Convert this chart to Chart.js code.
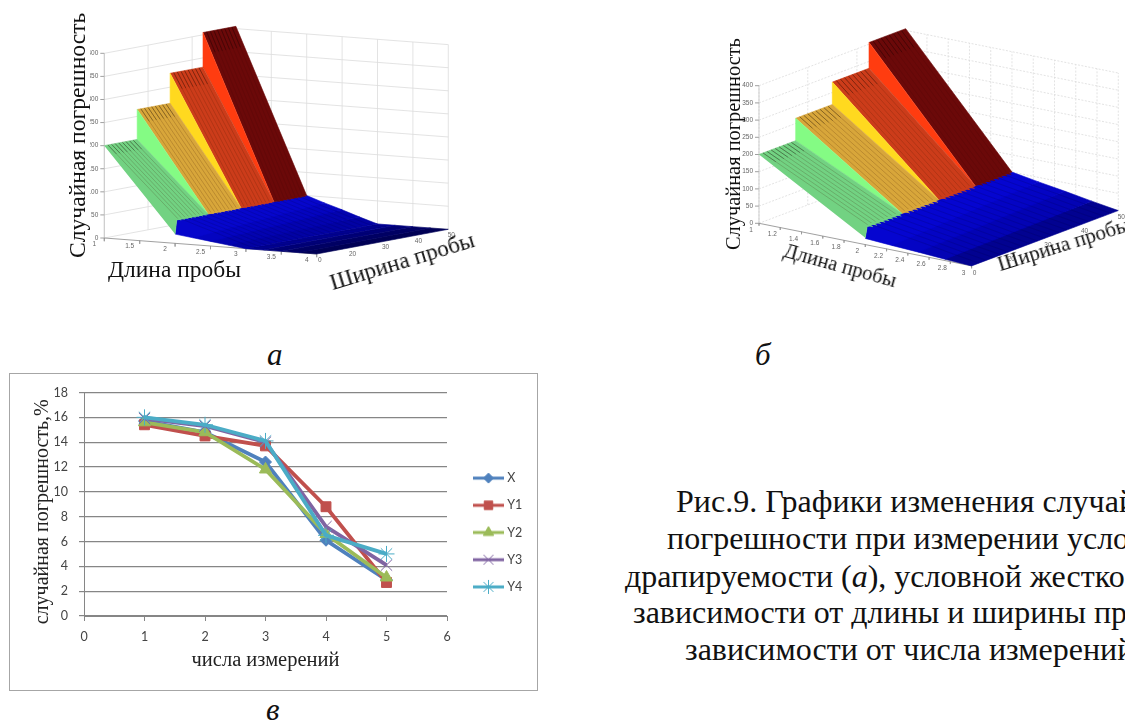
<!DOCTYPE html>
<html lang="ru">
<head>
<meta charset="utf-8">
<script src="https://cdn.jsdelivr.net/npm/chart.js@4"></script>
<style>
html,body{margin:0;padding:0;background:#fff;width:1125px;height:722px;overflow:hidden;position:relative;}
canvas{position:absolute;display:block;}
.t{position:absolute;font-family:"Liberation Serif",serif;color:#111;white-space:nowrap;transform-origin:0 0;line-height:1;}
.cap{font-size:32px;}
#frame{position:absolute;left:9px;top:373px;width:527px;height:316px;border:1px solid #a6a6a6;box-sizing:content-box;}
.soft{filter:blur(0.45px);}
</style>
</head>
<body>
<div id="frame"></div>
<canvas id="panelA" class="soft" style="left:90px;top:0;width:380px;height:280px"></canvas>
<canvas id="panelB" class="soft" style="left:740px;top:10px;width:385px;height:290px"></canvas>
<canvas id="panelC" class="soft" style="left:10px;top:374px;width:526px;height:315px"></canvas>

<div class="t" style="left:66px;top:258px;font-size:23.6px;transform:rotate(-90deg)">Случайная погрешность</div>
<div class="t" style="left:108px;top:258px;font-size:23.5px">Длина пробы</div>
<div class="t" style="left:327px;top:272px;font-size:23px;transform:rotate(-17deg)">Ширина пробы</div>
<div class="t" style="left:723px;top:250px;font-size:20.4px;transform:rotate(-90deg)">Случайная погрешность</div>
<div class="t" style="left:786.6px;top:240.4px;font-size:20.5px;transform:rotate(15.5deg)">Длина пробы</div>
<div class="t" style="left:995px;top:255px;font-size:21px;transform:rotate(-17.3deg)">Ширина пробы</div>
<div class="t" style="left:267px;top:339px;font-size:31px;font-style:italic">а</div>
<div class="t" style="left:755px;top:339px;font-size:31px;font-style:italic">б</div>
<div class="t" style="left:266px;top:694px;font-size:31px;font-style:italic">в</div>
<div class="t cap" style="left:676px;top:485px">Рис.9. Графики изменения случайной</div>
<div class="t cap" style="left:667px;top:521.5px">погрешности при измерении условной</div>
<div class="t cap" style="left:625px;top:560px">драпируемости (<i>а</i>), условной жесткости (<i>б</i>) в</div>
<div class="t cap" style="left:633px;top:596px">зависимости от длины и ширины пробы, в</div>
<div class="t cap" style="left:685px;top:633px">зависимости от числа измерений (<i>в</i>)</div>

<script>
// ---- 3D surfaces (panels a, б) ----
const errTicks = [0,50,100,150,200,250,300,350,400];
const widthSteps = [10,20,30,40,50];
const widthWallLines = [10,23.3,36.7,50];
const widthTickLabels = ["0","20","30","40","50"];
const stepErrA = [200,265,330,405];
const stepErrB = [200,265,330,405];
const ridgeErr = 50;
const ridgeFrontErr = 20;
const lengthTicksA = [1,1.5,2,2.5,3,3.5,4];
const lengthTicksB = [1,1.2,1.4,1.6,1.8,2,2.2,2.4,2.6,2.8,3];
const blueLengthsA = [2,2.25,2.5,2.75,3,3.25,3.5,3.75,4];
const blueErrA = [50,37,25,12,0,0,0,0,0];
const blueFrontErrA = [20,15,10,5,0,0,0,0,0];
const blueLengthsB = [2,2.25,2.5,2.75,3];
const blueErrB = [50,37,25,12,0];
const blueFrontErrB = [18,13,9,4,0];
// ---- 2D chart (panel в) ----
const measureCounts = [1,2,3,4,5];
const seriesX  = [15.7,14.8,12.4,6.1,2.9];
const seriesY1 = [15.4,14.5,13.7,8.8,2.7];
const seriesY2 = [15.6,14.8,11.8,6.6,3.1];
const seriesY3 = [15.9,15.3,14.0,7.2,4.1];
const seriesY4 = [16.0,15.4,14.1,6.5,5.0];

const topColors   = ['#72d282','#d8a63a','#cc3c1a','#6b0909'];
const riserColors = ['#84fb84','#ffd91f','#ff3c10'];
const bluesA = ['#0606cc','#0404c0','#0303b0','#0202a4','#020296','#01017c','#010168','#010158'];
const bluesB = ['#0505d0','#0404c4','#0303b4','#020290'];

function surfacePanel(id, cfg){
  const P = (L,W,Z)=>({x:cfg.o.x+(L-1)*cfg.uL.x+(W-10)/10*cfg.uW.x, y:cfg.o.y+(L-1)*cfg.uL.y+(W-10)/10*cfg.uW.y-Z*cfg.kz});
  const ds = [];
  const poly = (pts,color)=>ds.push({data:pts,showLine:true,fill:'shape',backgroundColor:color,borderColor:color,borderWidth:0.6,pointRadius:0,tension:0});
  const line = (pts,color,w,dash)=>ds.push({data:pts,showLine:true,fill:false,borderColor:color,borderWidth:w,borderDash:dash||[],pointRadius:0,tension:0});
  const Lmin = cfg.lengths[0], Lmax = cfg.lengths[cfg.lengths.length-1];
  const Wmin = widthSteps[0], Wmax = widthSteps[4], Ztop = errTicks[errTicks.length-1];
  const gc = '#dcdcdc';
  errTicks.forEach(z=>{ line([P(Lmin,Wmin,z),P(Lmin,Wmax,z),P(Lmax,Wmax,z)],gc,0.8,cfg.dash); });
  widthWallLines.forEach(w=>{ line([P(Lmin,w,0),P(Lmin,w,Ztop)],gc,0.8,cfg.dash); });
  cfg.lengths.forEach(l=>{ line([P(l,Wmax,0),P(l,Wmax,Ztop)],gc,0.8,cfg.dash); });
  cfg.lengths.forEach(l=>{ line([P(l,Wmin,0),P(l,Wmin,-7)],'#999',0.7); });
  errTicks.forEach(z=>{ line([P(Lmin,Wmin,z),{x:P(Lmin,Wmin,z).x-4,y:P(Lmin,Wmin,z).y}],'#888',0.8); });
  line([P(Lmin,Wmin,0),P(Lmin,Wmin,Ztop)],'#bbb',0.7);
  line([P(Lmin,Wmin,0),P(Lmax,Wmin,0)],'#888',0.8);
  // blue part, far to near
  const bl = cfg.blueL;
  for(let i=bl.length-2;i>=0;i--){
    poly([P(bl[i],Wmin,cfg.blueF[i]),P(bl[i+1],Wmin,cfg.blueF[i+1]),P(bl[i+1],Wmax,cfg.blueZ[i+1]),P(bl[i],Wmax,cfg.blueZ[i]),P(bl[i],Wmin+0.5,cfg.blueZ[i])],cfg.blues[i]);
  }
  // blue ribs
  for(let w=Wmin+2;w<Wmax;w+=2){
    const pts = bl.map((l,i)=>P(l,w,cfg.blueZ[i]));
    line(pts,'rgba(0,0,60,0.22)',0.8);
  }
  // coloured steps, far to near
  for(let i=3;i>=0;i--){
    const w0=widthSteps[i], w1=widthSteps[i+1], h=cfg.stepErr[i];
    const low0 = i===0 ? [P(2,w0+0.5,ridgeErr),P(2,w0,ridgeFrontErr)] : [P(2,w0,ridgeErr)];
    poly([P(1,w0,h),P(1,w1,h),P(2,w1,ridgeErr)].concat(low0),topColors[i]);
    if(i>0) poly([P(1,w0,cfg.stepErr[i-1]),P(1,w0,h),P(2,w0,ridgeErr)],riserColors[i-1]);
    const rib = i===3?'rgba(0,0,0,0.12)':'rgba(60,20,0,0.28)';
    for(let w=w0+1.1;w<w1-0.4;w+=1.1){
      line([P(1,w,h),P(2,w,ridgeErr)],rib,0.7);
      line([P(1,w,h),P(1.12,w,h-(h-ridgeErr)*0.12)],'rgba(0,0,0,0.28)',1);
      poly([P(1.98,w-0.55,ridgeErr+1),P(1.98,w+0.55,ridgeErr+1),P(2.035,w,ridgeErr-1)],topColors[i]);
    }
  }
  ds.reverse(); // Chart.js paints the first dataset last
  // tick labels
  const ticksPlugin = {id:'ticks3d',afterDatasetsDraw(chart){
    const {ctx,scales:{x,y}} = chart;
    const put=(txt,p,dx,dy)=>ctx.fillText(txt,x.getPixelForValue(p.x)+dx,y.getPixelForValue(p.y)+dy);
    ctx.save();ctx.font='6.5px "Liberation Sans",sans-serif';ctx.fillStyle='#666';ctx.textBaseline='middle';
    ctx.textAlign='right';
    errTicks.forEach(z=>put(String(z),P(Lmin,Wmin,z),-6,0));
    ctx.textAlign='center';
    cfg.lengthTicks.forEach(l=>put(String(l),P(l,Wmin,0),cfg.lOff[0],cfg.lOff[1]));
    widthSteps.forEach((w,i)=>{ if(widthTickLabels[i]) put(widthTickLabels[i],P(Lmax,w,0),cfg.wOff[0],cfg.wOff[1]); });
    ctx.restore();
  }};
  return new Chart(document.getElementById(id),{
    type:'scatter',
    data:{datasets:ds},
    plugins:[ticksPlugin],
    options:{animation:false,responsive:false,devicePixelRatio:1,layout:{padding:0},
      plugins:{legend:{display:false},tooltip:{enabled:false}},
      scales:{x:{type:'linear',display:false,min:cfg.box[0],max:cfg.box[1]},
              y:{type:'linear',display:false,min:cfg.box[2],max:cfg.box[3],reverse:true}}}
  });
}
const setSize=(id,w,h)=>{const c=document.getElementById(id);c.width=w;c.height=h;};
setSize('panelA',380,280);setSize('panelB',385,290);setSize('panelC',526,315);

surfacePanel('panelA',{
  o:{x:104.3,y:238},uL:{x:70.8,y:5.33},uW:{x:32.9,y:-6.17},kz:0.4617,
  lengths:lengthTicksA,lengthTicks:lengthTicksA,stepErr:stepErrA,
  blueL:blueLengthsA,blueZ:blueErrA,blueF:blueFrontErrA,blues:bluesA,
  lOff:[-10,6],wOff:[3,6],box:[90,470,0,280],dash:[]
});
surfacePanel('panelB',{
  o:{x:759,y:223.3},uL:{x:106.3,y:21.3},uW:{x:36.67,y:-13.83},kz:0.344,
  lengths:lengthTicksB,lengthTicks:lengthTicksB,stepErr:stepErrB,
  blueL:blueLengthsB,blueZ:blueErrB,blueF:blueFrontErrB,blues:bluesB,
  lOff:[-8,7],wOff:[3,7],box:[740,1125,10,300],dash:[2,1.5]
});

// ---- line chart ----
const seriesNames = ['X','Y1','Y2','Y3','Y4'];
const seriesData  = [seriesX,seriesY1,seriesY2,seriesY3,seriesY4];
const seriesColor = ['#4F81BD','#C0504D','#9BBB59','#8064A2','#4BACC6'];
const seriesPoint = ['rectRot','rect','triangle','crossRot','star'];
const seriesRadius= [6,7,7,8,8];
const sprite=(i)=>{
  const c=document.createElement('canvas');c.width=31;c.height=16;const g=c.getContext('2d');
  g.strokeStyle=seriesColor[i];g.fillStyle=seriesColor[i];g.lineWidth=3;
  g.beginPath();g.moveTo(0,8);g.lineTo(31,8);g.stroke();
  g.lineWidth=1;
  Chart.helpers.drawPoint(g,{pointStyle:seriesPoint[i],radius:seriesRadius[i]-1,rotation:0,borderWidth:1},15.5,8);
  return c;
};
new Chart(document.getElementById('panelC'),{
  type:'line',
  data:{datasets:seriesNames.map((n,i)=>({
    label:n,data:measureCounts.map((x,k)=>({x,y:seriesData[i][k]})),
    borderColor:seriesColor[i],backgroundColor:seriesColor[i],borderWidth:3.8,tension:0,
    pointStyle:seriesPoint[i],pointRadius:seriesRadius[i],pointBorderWidth:1,pointBorderColor:seriesColor[i],
    pointBackgroundColor:seriesColor[i],order:5-i
  }))},
  plugins:[{id:'legendShift',afterLayout(chart){
    const l=chart.legend;
    const w=l.right-l.left;l.left=451.3;l.right=451.3+w;
    l.top-=6;l.bottom-=6;
  }}],
  options:{animation:false,responsive:false,devicePixelRatio:1,
    layout:{padding:{top:14,right:18,left:0,bottom:0}},
    plugins:{tooltip:{enabled:false},
      legend:{position:'right',
        labels:{usePointStyle:true,pointStyleWidth:25,padding:14.7,color:'#444',font:{family:'Lato',size:12.5},
          generateLabels(chart){return chart.data.datasets.map((d,i)=>({text:d.label,fontColor:'#444',pointStyle:sprite(i),datasetIndex:i,hidden:false,lineWidth:0,strokeStyle:'transparent',fillStyle:'transparent'}));}
        }}},
    scales:{
      x:{type:'linear',min:0,max:6,afterFit(s){s.height=73;},
        ticks:{stepSize:1,color:'#444',font:{family:'Lato',size:12.5},padding:8},
        grid:{drawOnChartArea:false,color:'#868686',tickLength:5},border:{color:'#868686'},
        title:{display:true,text:'числа измерений',color:'#222',font:{family:'Liberation Serif',size:20.5},padding:{top:2,bottom:16}}},
      y:{type:'linear',min:0,max:18,afterFit(s){s.width=74;},
        ticks:{stepSize:2,color:'#444',font:{family:'Lato',size:12.5},padding:11},
        grid:{color:'#868686',tickLength:5,lineWidth:1.2},border:{color:'#868686'},
        title:{display:true,text:'случайная погрешность,%   ',color:'#222',font:{family:'Liberation Serif',size:20},padding:{top:21,bottom:0}}}
    }
  }
});
</script>
</body>
</html>
